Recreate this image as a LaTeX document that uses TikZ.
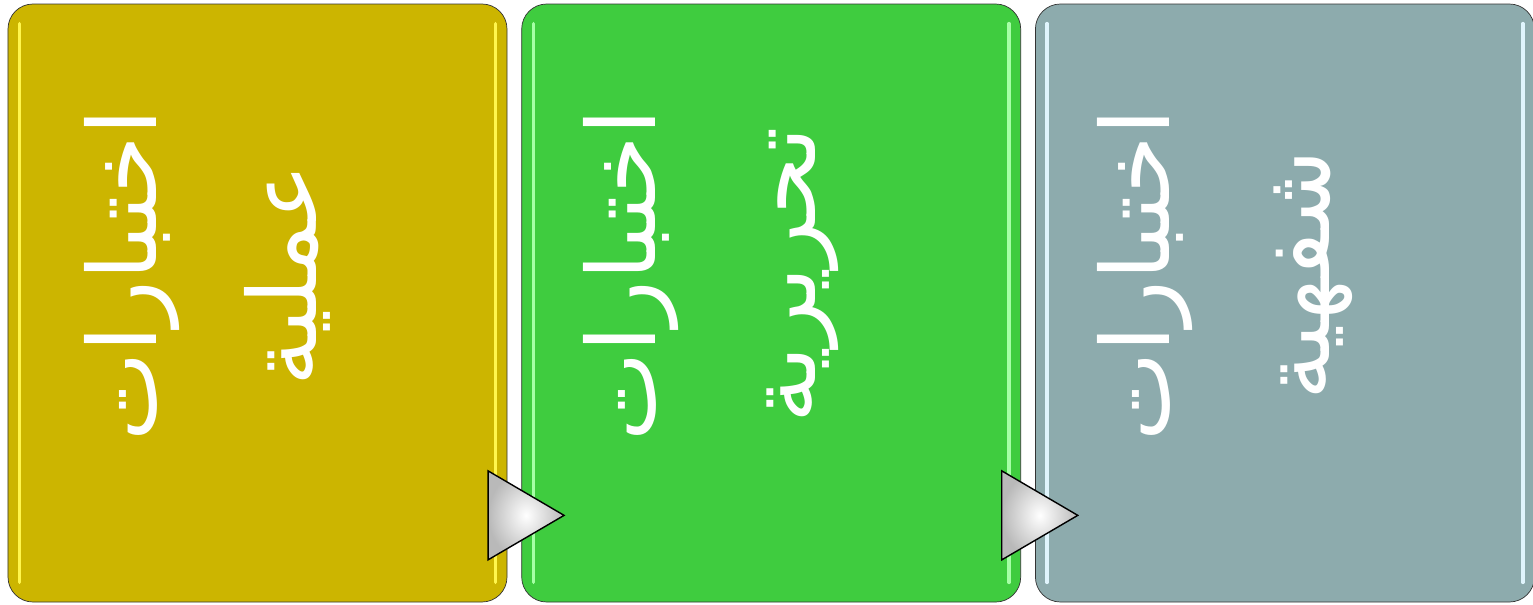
\documentclass[tikz,border=0pt]{standalone}
\usepackage{fontspec}
\newfontfamily\arabicfont[Script=Arabic]{DejaVu Sans}
\TeXXeTstate=1
\usetikzlibrary{positioning,shapes.geometric}

\definecolor{olivebox}{RGB}{204,181,0}
\definecolor{greenbox}{RGB}{63,204,63}
\definecolor{greybox}{RGB}{141,171,173}

\begin{document}
\begin{tikzpicture}[
        node distance=0.28cm,
        every path/.style={thin},
        testbox/.style={draw=black!80, rounded corners=0.5cm, minimum width=9.98cm, minimum height=11.96cm, inner sep=0pt},
        boxtext/.style={text=white, rotate=90, align=center, font=\arabicfont\fontsize{54}{91}\selectfont},
        arrowtri/.style={isosceles triangle, isosceles triangle stretches, minimum width=1.78cm, minimum height=1.52cm, inner sep=0pt, draw=black, line width=0.8pt, inner color=white, outer color=gray!55, anchor=west}
    ]
    \useasboundingbox (0,0) rectangle (30.66,12.08);

    % Boxes
      \node[testbox, fill=olivebox] (b1) at (5.15,6.02) {};
      \node[testbox, fill=greenbox, right=of b1] (b2) {};
      \node[testbox, fill=greybox, right=of b2] (b3) {};

    % glossy edges
      \foreach \b/\c in {b1/yellow!70!white, b2/green!35!white, b3/cyan!12!white}{
        \draw[\c, line width=2pt, line cap=round] ([xshift=0.24cm, yshift=0.4cm]\b.south west) -- ([xshift=0.24cm, yshift=-0.4cm]\b.north west);
        \draw[\c, line width=2pt, line cap=round] ([xshift=-0.24cm, yshift=0.4cm]\b.south east) -- ([xshift=-0.24cm, yshift=-0.4cm]\b.north east);
      }

    % Texts
      \node[boxtext] (t1) at ([xshift=-1.0cm, yshift=0.55cm]b1.center) {\beginR اختبارات\endR\\\beginR عملية\endR};
      \node[boxtext] (t2) at ([xshift=-1.2cm, yshift=0.55cm]b2.center) {\beginR اختبارات\endR\\\beginR تحريرية\endR};
      \node[boxtext] (t3) at ([xshift=-1.2cm, yshift=0.55cm]b3.center) {\beginR اختبارات\endR\\\beginR شفهية\endR};

    % Arrows
      \node[arrowtri] (a1) at ([xshift=-0.4cm, yshift=1.74cm]b1.south east) {};
      \node[arrowtri] (a2) at ([xshift=-0.4cm, yshift=1.74cm]b2.south east) {};

    \end{tikzpicture}
\end{document}
